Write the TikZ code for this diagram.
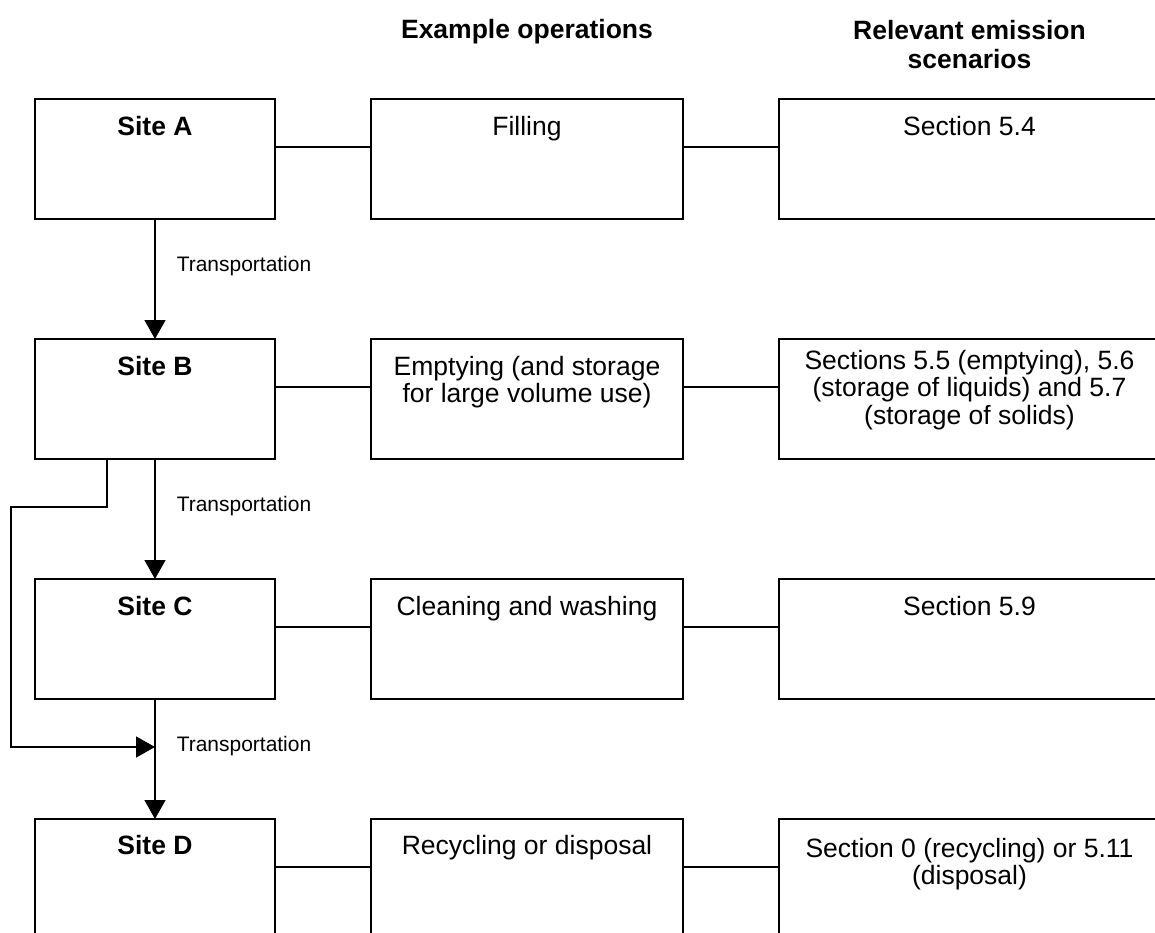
\documentclass[tikz,border=0pt]{standalone}
\usepackage{fontspec}
\setmainfont{Liberation Sans}
\usetikzlibrary{arrows.meta,calc}
\def\u{0.4528pt}
\tikzset{
  box/.style={draw, line width=0.7pt, inner sep=0pt, outer sep=0pt, minimum height=120*\u},
  sitebox/.style={box, minimum width=240*\u},
  opbox/.style={box, minimum width=312*\u},
  scbox/.style={box, minimum width=381*\u},
  boxtext/.style={anchor=north, inner sep=0pt, align=center, font=\fontsize{12}{12.45}\selectfont},
  sitetext/.style={boxtext, font=\fontsize{12}{12.45}\selectfont\bfseries},
  header/.style={anchor=north, inner sep=0pt, align=center, font=\fontsize{12}{13.1}\selectfont\bfseries},
  link/.style={line width=0.7pt},
  flow/.style={line width=0.7pt, -{Triangle[width=9.5pt, length=8.6pt]}},
  translabel/.style={anchor=west, inner sep=0pt, xshift=9.5pt, font=\fontsize{9.5}{11}\selectfont}
}
\newcommand{\st}{\rule{0pt}{10pt}}
\begin{document}
\begin{tikzpicture}[x=\u, y=-\u]
\useasboundingbox (0,0) rectangle (1155,933);
\clip (0,0) rectangle (1155,933);
% headers
\node[header, yshift=10pt] (h1) at (527,38) {\st Example operations};
\node[header, yshift=10pt] (h2) at (969.5,39) {\st Relevant emission\\scenarios};
% boxes
\foreach \n/\y in {A/159,B/399,C/639,D/879}{
  \node[sitebox] (\n) at (155,\y) {};
  \node[opbox] (O\n) at (527,\y) {};
  \node[scbox] (S\n) at (969.5,\y) {};
}
% texts
\node[sitetext] (tA) at ([yshift={-(36*\u-10pt)}]A.north) {\st Site A};
\node[sitetext] (tB) at ([yshift={-(36*\u-10pt)}]B.north) {\st Site B};
\node[sitetext] (tC) at ([yshift={-(36*\u-10pt)}]C.north) {\st Site C};
\node[sitetext] (tD) at ([yshift={-(35*\u-10pt)}]D.north) {\st Site D};
\node[boxtext] (tOA) at ([yshift={-(36*\u-10pt)}]OA.north) {\st Filling};
\node[boxtext] (tOB) at ([yshift={-(36*\u-10pt)}]OB.north) {\st Emptying (and storage\\for large volume use)};
\node[boxtext] (tOC) at ([yshift={-(36*\u-10pt)}]OC.north) {\st Cleaning and washing};
\node[boxtext] (tOD) at ([yshift={-(35*\u-10pt)}]OD.north) {\st Recycling or disposal};
\node[boxtext] (tSA) at ([yshift={-(36*\u-10pt)}]SA.north) {\st Section 5.4};
\node[boxtext] (tSB) at ([yshift={-(30*\u-10pt)}]SB.north) {\st Sections 5.5 (emptying), 5.6\\(storage of liquids) and 5.7\\(storage of solids)};
\node[boxtext] (tSC) at ([yshift={-(36*\u-10pt)}]SC.north) {\st Section 5.9};
\node[boxtext] (tSD) at ([yshift={-(38*\u-10pt)}]SD.north) {\st Section 0 (recycling) or 5.11\\(disposal)};
% horizontal links
\foreach \n in {A,B,C,D}{
  \draw[link] ([yshift=12*\u]\n.east) -- ([yshift=12*\u]O\n.west);
  \draw[link] ([yshift=12*\u]O\n.east) -- ([yshift=12*\u]S\n.west);
}
% flows
\coordinate (J) at ($(C.south)!0.4!(D.north)$);
\draw[flow] (A.south) -- node[translabel, pos=0.39] (lAB) {Transportation} (B.north);
\draw[flow] (B.south) -- node[translabel, pos=0.39] (lBC) {Transportation} (C.north);
\draw[flow] (C.south) -- node[translabel, pos=0.39] (lCD) {Transportation} (D.north);
\draw[flow] ([xshift=-48*\u]B.south) -- ++(0,48) -- ++(-96,0) |- (J);
\end{tikzpicture}
\end{document}
